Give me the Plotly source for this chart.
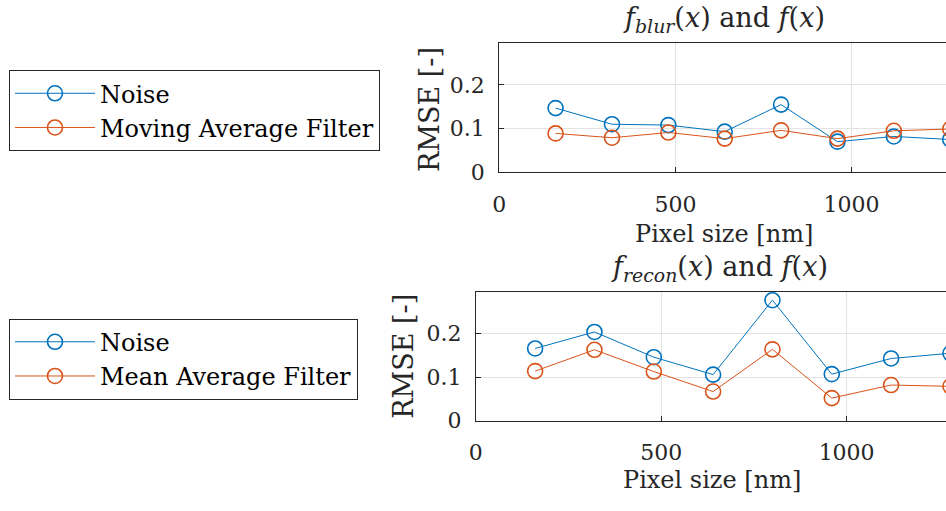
import plotly.graph_objects as go

pixel_size = [160, 320, 480, 640, 800, 960, 1120, 1280]
blur_noise = [0.147, 0.110, 0.108, 0.093, 0.155, 0.070, 0.082, 0.075]
blur_moving_avg = [0.089, 0.079, 0.091, 0.077, 0.096, 0.077, 0.095, 0.099]
recon_noise = [0.166, 0.204, 0.146, 0.106, 0.277, 0.107, 0.143, 0.155]
recon_mean_avg = [0.114, 0.163, 0.113, 0.067, 0.164, 0.052, 0.082, 0.079]

BLUE = "#0072BD"
ORANGE = "#D95319"
FONT = "DejaVu Serif"
TXT = "#262626"
W, H = 946, 511
FS = 24
LFS = 24
TFS = 22

def px(x):
    return x / W

def py(y):
    return 1 - y / H

fig = go.Figure()

def add(x, y, name, color, xa, ya, legend):
    fig.add_trace(go.Scatter(
        x=x, y=y, name=name, mode="lines+markers",
        line=dict(color=color, width=1),
        marker=dict(symbol="circle-open", size=15, color=color, line=dict(width=1.6, color=color)),
        xaxis=xa, yaxis=ya, legend=legend,
    ))

add(pixel_size, blur_noise, "Noise", BLUE, "x", "y", "legend")
add(pixel_size, blur_moving_avg, "Moving Average Filter", ORANGE, "x", "y", "legend")
add(pixel_size, recon_noise, "Noise", BLUE, "x2", "y2", "legend2")
add(pixel_size, recon_mean_avg, "Mean Average Filter", ORANGE, "x2", "y2", "legend2")

xmax = 1268
xticks = [0, 500, 1000]
yticks = [0, 0.1, 0.2]

common_x = dict(range=[0, xmax], tickvals=xticks, ticktext=[str(v) for v in xticks],
                showline=True, linecolor=TXT, linewidth=1, mirror=True,
                ticks="inside", ticklen=5, tickcolor=TXT, ticklabelstandoff=12,
                showgrid=True, gridcolor="#e3e3e3", gridwidth=1, zeroline=False,
                tickfont=dict(family=FONT, size=TFS, color=TXT))
common_y = dict(range=[0, 0.2965], tickvals=yticks, ticktext=["0", "0.1", "0.2"],
                showline=True, linecolor=TXT, linewidth=1, mirror=False,
                ticks="inside", ticklen=5, tickcolor=TXT, ticklabelstandoff=9,
                showgrid=True, gridcolor="#e3e3e3", gridwidth=1, zeroline=False,
                tickfont=dict(family=FONT, size=TFS, color=TXT))

fig.update_layout(
    width=W, height=H,
    margin=dict(l=0, r=0, t=0, b=0),
    paper_bgcolor="white", plot_bgcolor="white",
    font=dict(family=FONT, size=FS, color="black"),
    xaxis=dict(common_x, domain=[px(495.9), 1], anchor="y"),
    yaxis=dict(common_y, domain=[py(176.7), py(44)], anchor="x"),
    xaxis2=dict(common_x, domain=[px(472.3), 1], anchor="y2"),
    yaxis2=dict(common_y, domain=[py(431.7), py(299.3)], anchor="x2"),
    legend=dict(x=px(2), y=py(72), xanchor="left", yanchor="top",
                bordercolor=TXT, borderwidth=1, bgcolor="white", itemwidth=80,
                font=dict(family=FONT, size=LFS, color="black"), tracegroupgap=0),
    legend2=dict(x=px(2), y=py(327), xanchor="left", yanchor="top",
                 bordercolor=TXT, borderwidth=1, bgcolor="white", itemwidth=80,
                 font=dict(family=FONT, size=LFS, color="black"), tracegroupgap=0),
    showlegend=True,
)

annots = [
    dict(text="<i>f</i><sub><i>blur</i></sub>(<i>x</i>) and <i>f</i>(<i>x</i>)", x=px(722), y=py(20), size=27),
    dict(text="<i>f</i><sub><i>recon</i></sub>(<i>x</i>) and <i>f</i>(<i>x</i>)", x=px(718), y=py(276), size=27),
    dict(text="Pixel size [nm]", x=px(722), y=py(240), size=FS),
    dict(text="Pixel size [nm]", x=px(710), y=py(493), size=FS),
]
for a in annots:
    s = a.pop("size")
    fig.add_annotation(xref="paper", yref="paper", xanchor="center", yanchor="middle",
                       showarrow=False, font=dict(family=FONT, size=s, color=TXT), **a)
for x0, y0 in [(425, 112), (400, 366)]:
    fig.add_annotation(xref="paper", yref="paper", x=px(x0), y=py(y0), text="RMSE [-]",
                       textangle=-90, xanchor="center", yanchor="middle", showarrow=False,
                       font=dict(family=FONT, size=27, color=TXT))

fig.write_html("out.html", config={"displayModeBar": False},
               post_script="document.body.style.margin='0';document.body.style.overflow='hidden';")
